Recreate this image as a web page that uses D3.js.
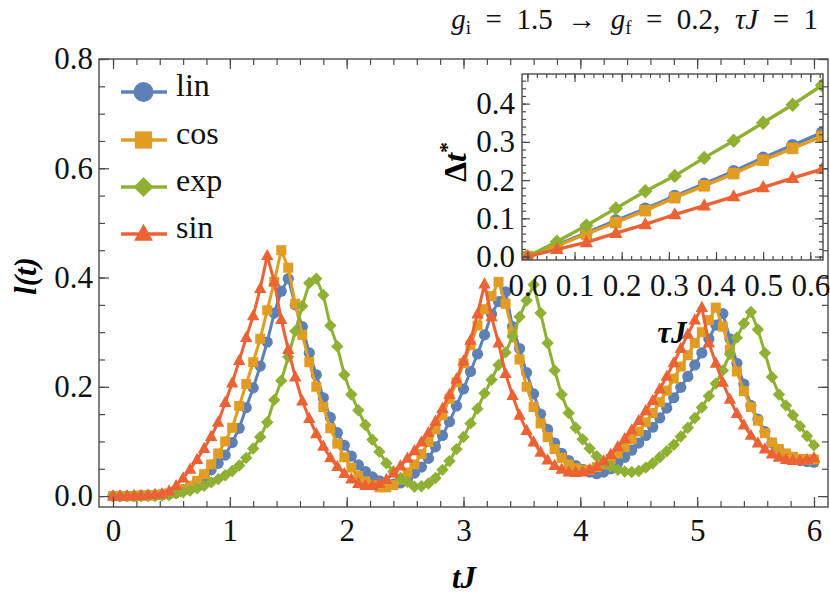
<!DOCTYPE html>
<html><head><meta charset="utf-8">
<script src="https://cdn.jsdelivr.net/npm/d3@7/dist/d3.min.js"></script>
<style>body{margin:0;background:#fff}svg{display:block}
svg text{font-family:"Liberation Serif","DejaVu Serif",serif !important;}</style>
</head><body>
<svg id="c" width="830" height="604"></svg>
<script>
// ---------------- data ----------------
const tValues = [0.00,0.06,0.12,0.18,0.24,0.30,0.36,0.42,0.48,0.54,0.60,0.66,0.72,0.78,0.84,0.90,0.96,1.02,1.08,1.14,
1.20,1.26,1.32,1.38,1.44,1.50,1.56,1.62,1.68,1.74,1.80,1.86,1.92,1.98,2.04,2.10,2.16,2.22,2.28,2.34,
2.40,2.46,2.52,2.58,2.64,2.70,2.76,2.82,2.88,2.94,3.00,3.06,3.12,3.18,3.24,3.30,3.36,3.42,3.48,3.54,
3.60,3.66,3.72,3.78,3.84,3.90,3.96,4.02,4.08,4.14,4.20,4.26,4.32,4.38,4.44,4.50,4.56,4.62,4.68,4.74,
4.80,4.86,4.92,4.98,5.04,5.10,5.16,5.22,5.28,5.34,5.40,5.46,5.52,5.58,5.64,5.70,5.76,5.82,5.88,5.94,6.00];

const linValues = [0,0,0,0,0.001,0.001,0.002,0.003,0.004,0.006,0.012,0.018,0.026,0.036,0.048,0.060,0.075,0.098,0.124,0.162,
0.198,0.238,0.282,0.335,0.375,0.398,0.350,0.310,0.262,0.222,0.180,0.144,0.116,0.093,0.073,0.057,0.045,0.035,0.028,0.023,
0.022,0.024,0.031,0.042,0.053,0.069,0.090,0.111,0.136,0.165,0.196,0.228,0.260,0.295,0.333,0.356,0.374,0.310,0.270,0.226,
0.187,0.150,0.122,0.097,0.078,0.065,0.056,0.049,0.044,0.041,0.044,0.050,0.060,0.071,0.084,0.097,0.111,0.126,0.143,0.161,
0.180,0.199,0.219,0.240,0.262,0.288,0.313,0.334,0.288,0.243,0.205,0.166,0.141,0.118,0.097,0.085,0.076,0.069,0.065,0.063,0.062];

const cosValues = [0,0,0,0,0.001,0.001,0.002,0.003,0.005,0.008,0.012,0.019,0.028,0.040,0.058,0.078,0.100,0.125,0.165,0.205,
0.245,0.288,0.340,0.392,0.450,0.418,0.352,0.295,0.245,0.200,0.163,0.124,0.096,0.071,0.052,0.037,0.027,0.020,0.016,0.016,
0.020,0.030,0.043,0.058,0.077,0.099,0.122,0.148,0.178,0.208,0.243,0.276,0.312,0.342,0.366,0.392,0.352,0.300,0.250,0.200,
0.163,0.133,0.108,0.086,0.070,0.058,0.051,0.048,0.048,0.053,0.058,0.068,0.078,0.090,0.104,0.118,0.135,0.152,0.172,0.193,
0.215,0.237,0.258,0.280,0.300,0.322,0.345,0.310,0.268,0.228,0.192,0.163,0.138,0.115,0.098,0.086,0.078,0.072,0.068,0.067,0.067];

const expValues = [0,0,0,0,0,0,0,0.001,0.002,0.005,0.007,0.010,0.014,0.019,0.025,0.031,0.038,0.046,0.056,0.070,
0.087,0.108,0.135,0.176,0.211,0.255,0.302,0.348,0.390,0.398,0.368,0.312,0.274,0.222,0.186,0.157,0.130,0.103,0.081,0.060,
0.045,0.033,0.026,0.017,0.018,0.023,0.033,0.048,0.064,0.086,0.108,0.133,0.160,0.188,0.213,0.240,0.263,0.292,0.328,0.358,
0.387,0.335,0.280,0.230,0.186,0.152,0.125,0.104,0.087,0.073,0.062,0.054,0.048,0.045,0.044,0.046,0.052,0.060,0.071,0.082,
0.094,0.109,0.125,0.143,0.162,0.183,0.206,0.230,0.260,0.290,0.316,0.337,0.305,0.262,0.218,0.186,0.166,0.148,0.128,0.110,0.093];

const sinValues = [0,0,0,0.001,0.001,0.002,0.003,0.004,0.009,0.019,0.033,0.049,0.067,0.087,0.109,0.135,0.171,0.207,0.248,0.290,
0.330,0.380,0.440,0.392,0.323,0.268,0.218,0.174,0.142,0.114,0.091,0.070,0.054,0.041,0.031,0.023,0.019,0.019,0.023,0.030,
0.042,0.055,0.069,0.083,0.099,0.116,0.137,0.160,0.186,0.214,0.247,0.285,0.333,0.388,0.328,0.280,0.224,0.184,0.148,0.120,
0.099,0.080,0.066,0.056,0.049,0.044,0.043,0.044,0.048,0.054,0.064,0.076,0.090,0.105,0.121,0.138,0.156,0.175,0.196,0.219,
0.244,0.270,0.296,0.322,0.345,0.280,0.243,0.208,0.177,0.151,0.130,0.111,0.097,0.086,0.077,0.071,0.067,0.065,0.065,0.067,0.070];

// inset
const tauValues = [0,0.0625,0.125,0.1875,0.25,0.3125,0.375,0.4375,0.5,0.5625,0.625];
const insetLin = [0,0.030,0.062,0.094,0.125,0.158,0.190,0.223,0.258,0.291,0.324];
const insetCos = [0,0.028,0.059,0.089,0.120,0.154,0.185,0.217,0.252,0.283,0.314];
const insetExp = [0,0.039,0.081,0.126,0.171,0.211,0.258,0.303,0.350,0.397,0.448];
const insetSin = [0,0.019,0.037,0.061,0.084,0.110,0.133,0.157,0.181,0.205,0.229];

const seriesNames = ["lin","cos","exp","sin"];
const seriesColors = ["#5E81B5","#E19C24","#8FB032","#EB6235"];
const seriesShapes = ["circle","square","diamond","triangle"];
const mainSeries = [linValues,cosValues,expValues,sinValues];
const insetSeries = [insetLin,insetCos,insetExp,insetSin];

const xTicksMain = [0,1,2,3,4,5,6];
const yTicksMain = [0,0.2,0.4,0.6,0.8];
const xTicksInset = [0,0.1,0.2,0.3,0.4,0.5,0.6];
const yTicksInset = [0,0.1,0.2,0.3,0.4];

// ---------------- drawing ----------------
const svg = d3.select("#c");
const FONT = "Liberation Serif";
const FRAME = "#4a4a4a";

function markerPath(shape, r){
  if(shape==="circle") return `M${-r},0a${r},${r} 0 1,0 ${2*r},0a${r},${r} 0 1,0 ${-2*r},0Z`;
  if(shape==="square") return `M${-r},${-r}h${2*r}v${2*r}h${-2*r}Z`;
  if(shape==="diamond") return `M0,${-r}L${r},0L0,${r}L${-r},0Z`;
  return `M0,${-r*1.15}L${r*1.05},${r*0.75}L${-r*1.05},${r*0.75}Z`;
}
const mainR = {circle:5.6, square:5.0, diamond:6.2, triangle:5.9};
const insetR = {circle:6.3, square:5.8, diamond:7.2, triangle:6.4};
const legendR = {circle:10, square:8.6, diamond:10, triangle:9};

function frameAxes(g, x, y, xMaj, xMin, yMaj, yMin, majLen, minLen, fmtX, fmtY, padX, padY){
  const [x0,x1] = x.range(), [y0,y1] = y.range();
  const mk = (axisFn, scale, vals, len, fmt, pad) => axisFn(scale).tickValues(vals).tickSizeInner(-len).tickSizeOuter(0).tickPadding(pad||0).tickFormat(fmt||"");
  const layers = [
    [d3.axisBottom, x, xMin, minLen, null, 0, `translate(0,${y0})`],
    [d3.axisBottom, x, xMaj, majLen, fmtX, padX, `translate(0,${y0})`],
    [d3.axisTop, x, xMin, minLen, null, 0, `translate(0,${y1})`],
    [d3.axisTop, x, xMaj, majLen, null, 0, `translate(0,${y1})`],
    [d3.axisLeft, y, yMin, minLen, null, 0, `translate(${x0},0)`],
    [d3.axisLeft, y, yMaj, majLen, fmtY, padY, `translate(${x0},0)`],
    [d3.axisRight, y, yMin, minLen, null, 0, `translate(${x1},0)`],
    [d3.axisRight, y, yMaj, majLen, null, 0, `translate(${x1},0)`]
  ];
  layers.forEach(([fn, sc, vals, len, fmt, pad, tr]) => {
    const a = g.append("g").attr("transform", tr).call(mk(fn, sc, vals, len, fmt, pad));
    a.attr("font-family", FONT);
    a.select(".domain").remove();
    a.selectAll("line").attr("stroke", FRAME).attr("stroke-width", 1.2);
    a.selectAll("text").attr("font-family", FONT).attr("font-size", 31).attr("fill", "#111");
  });
  g.append("rect").attr("x", x0).attr("y", y1).attr("width", x1-x0).attr("height", y0-y1)
    .attr("fill", "none").attr("stroke", FRAME).attr("stroke-width", 1.4);
}

function minorVals(lo, hi, step){
  const out=[]; for(let i=0;;i++){const v=+(lo+i*step).toFixed(4); if(v>hi+1e-9)break; out.push(v);} return out;
}

// main scales
const x = d3.scaleLinear().domain([-0.12, 6.12]).range([99, 828]);
const y = d3.scaleLinear().domain([-0.02, 0.8]).range([507, 59]);

const gMain = svg.append("g");
svg.append("defs").append("clipPath").attr("id","clipMain").append("rect")
  .attr("x",99).attr("y",59).attr("width",729).attr("height",448);

const dataG = gMain.append("g").attr("clip-path","url(#clipMain)");
mainSeries.forEach((vals, si) => {
  const pts = tValues.map((t,i)=>[t, vals[i]]);
  dataG.append("path").datum(pts)
    .attr("d", d3.line().x(d=>x(d[0])).y(d=>y(d[1])))
    .attr("fill","none").attr("stroke", seriesColors[si]).attr("stroke-width", 3).attr("stroke-linejoin","round");
  dataG.append("g").selectAll("path").data(pts).join("path")
    .attr("transform", d=>`translate(${x(d[0])},${y(d[1])})`)
    .attr("d", markerPath(seriesShapes[si], mainR[seriesShapes[si]]))
    .attr("fill", seriesColors[si]);
});

frameAxes(gMain, x, y, xTicksMain, minorVals(0,6,0.2), yTicksMain, minorVals(0,0.8,0.05), 10, 6,
  d3.format("d"), d3.format(".1f"), 12, 6);

// legend
const legendY = [92, 140, 187, 234];
const lg = svg.append("g");
seriesNames.forEach((nm, i) => {
  lg.append("line").attr("x1",121).attr("x2",167).attr("y1",legendY[i]).attr("y2",legendY[i])
    .attr("stroke", seriesColors[i]).attr("stroke-width", 3.4);
  lg.append("path").attr("transform",`translate(143.5,${legendY[i]})`)
    .attr("d", markerPath(seriesShapes[i], legendR[seriesShapes[i]])).attr("fill", seriesColors[i]);
  lg.append("text").attr("x",176).attr("y",legendY[i]+4).text(nm)
    .attr("font-family",FONT).attr("font-size",32).attr("fill","#111");
});

// axis labels
svg.append("text").attr("transform","translate(36,276) rotate(-90)").attr("text-anchor","middle")
  .attr("font-family",FONT).attr("font-size",31).attr("font-weight","bold").attr("font-style","italic")
  .text("l(t)");
svg.append("text").attr("x",464).attr("y",588).attr("text-anchor","middle")
  .attr("font-family",FONT).attr("font-size",31).attr("font-weight","bold").attr("font-style","italic")
  .text("tJ");

// title
const title = svg.append("text").attr("x",818).attr("y",29).attr("text-anchor","end")
  .attr("font-family",FONT).attr("font-size",29).attr("fill","#111").attr("xml:space","preserve");
title.append("tspan").attr("font-style","italic").text("g");
title.append("tspan").attr("font-size",19).attr("dy",5).text("i");
title.append("tspan").attr("dy",-5).text("\u2002=\u20021.5\u2002\u2192\u2002");
title.append("tspan").attr("font-style","italic").text("g");
title.append("tspan").attr("font-size",19).attr("dy",5).text("f");
title.append("tspan").attr("dy",-5).text("\u2002=\u20020.2,\u2002");
title.append("tspan").attr("font-style","italic").text("\u03C4J");
title.append("tspan").text("\u2002=\u20021");

// ---------------- inset ----------------
const xi = d3.scaleLinear().domain([-0.0115, 0.627]).range([522, 823]);
const yi = d3.scaleLinear().domain([-0.009, 0.4775]).range([260, 74]);
const gIn = svg.append("g");
gIn.append("rect").attr("x",522).attr("y",74).attr("width",301).attr("height",186).attr("fill","#fff");
svg.select("defs").append("clipPath").attr("id","clipIn").append("rect")
  .attr("x",522).attr("y",74).attr("width",301).attr("height",186);
const inData = gIn.append("g").attr("clip-path","url(#clipIn)");
insetSeries.forEach((vals, si) => {
  const pts = tauValues.map((t,i)=>[t, vals[i]]);
  inData.append("path").datum(pts)
    .attr("d", d3.line().x(d=>xi(d[0])).y(d=>yi(d[1])))
    .attr("fill","none").attr("stroke", seriesColors[si]).attr("stroke-width", 3.4);
  inData.append("g").selectAll("path").data(pts).join("path")
    .attr("transform", d=>`translate(${xi(d[0])},${yi(d[1])})`)
    .attr("d", markerPath(seriesShapes[si], insetR[seriesShapes[si]]))
    .attr("fill", seriesColors[si]);
});
frameAxes(gIn, xi, yi, xTicksInset, minorVals(0,0.62,0.02), yTicksInset, minorVals(0,0.46,0.02), 8, 4,
  d3.format(".1f"), d3.format(".1f"), 14, 7);

svg.append("text").attr("transform","translate(466,162) rotate(-90)").attr("text-anchor","middle")
  .attr("font-family",FONT).attr("font-size",32).attr("font-weight","bold")
  .call(t=>{ t.append("tspan").text("\u0394");
             t.append("tspan").attr("font-style","italic").text("t");
             t.append("tspan").attr("font-size",22).attr("dy",-12).text("*"); });
svg.append("text").attr("x",672).attr("y",343).attr("text-anchor","middle")
  .attr("font-family",FONT).attr("font-size",31).attr("font-weight","bold").attr("font-style","italic")
  .text("\u03C4J");
</script>
</body></html>
